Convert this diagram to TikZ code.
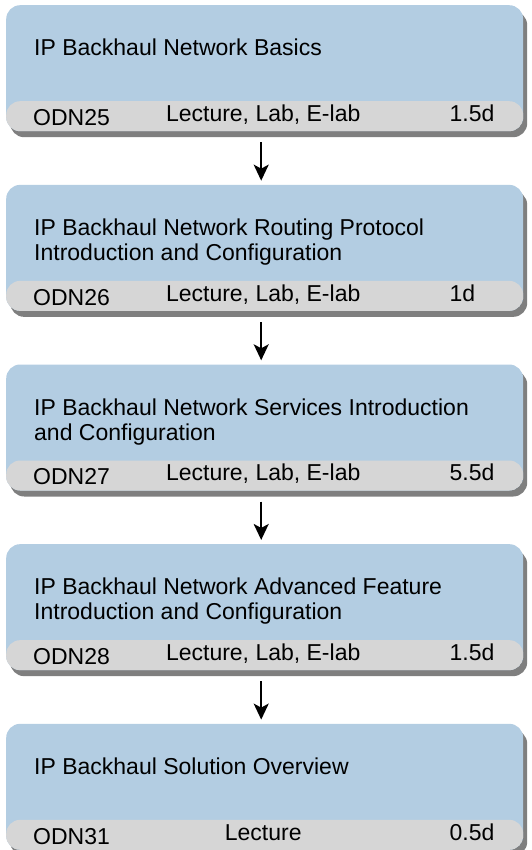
\documentclass[tikz,border=0pt]{standalone}
\usepackage{fontspec}
\setmainfont{Liberation Sans}
\definecolor{courseBlue}{HTML}{B3CDE2}
\definecolor{courseGrey}{HTML}{D6D6D6}
\definecolor{courseShadow}{HTML}{7F7F7F}
\usetikzlibrary{arrows.meta, positioning, shadows}
\tikzset{
    course card/.style={rectangle, rounded corners=14pt, fill=courseBlue, minimum width=517pt, minimum height=126pt, inner sep=0pt,
        drop shadow={shadow xshift=4pt, shadow yshift=-6pt, fill=courseShadow, opacity=1},
        path picture={\fill[courseGrey] ([yshift=30pt]path picture bounding box.south west) rectangle (path picture bounding box.south east);}},
    course title/.style={anchor=north west, align=left, inner sep=0pt, font=\fontsize{23}{25}\selectfont},
    course info/.style={inner sep=0pt, font=\fontsize{23}{25}\selectfont},
    arrow style/.style={-{Stealth[length=16pt, width=15pt, inset=4pt]}, line width=2pt, black},
}

\begin{document}
\begin{tikzpicture}[x=1pt, y=1pt, node distance=53.25pt]
    \useasboundingbox (0,0) rectangle (531,-850);
    \node[course card, anchor=north west] (course1) at (6,-5) {};
    \node[course card, below=of course1] (course2) {};
    \node[course card, below=of course2] (course3) {};
    \node[course card, below=of course3] (course4) {};
    \node[course card, below=of course4] (course5) {};
    \foreach \n/\code/\kind/\days/\title in {
        1/ODN25/{Lecture, Lab, E-lab}/1.5d/{IP Backhaul Network Basics},
        2/ODN26/{Lecture, Lab, E-lab}/1d/{IP Backhaul Network Routing Protocol\\Introduction and Configuration},
        3/ODN27/{Lecture, Lab, E-lab}/5.5d/{IP Backhaul Network Services Introduction\\and Configuration},
        4/ODN28/{Lecture, Lab, E-lab}/1.5d/{IP Backhaul Network Advanced Feature\\Introduction and Configuration},
        5/ODN31/Lecture/0.5d/{IP Backhaul Solution Overview}} {
        \node[course title] (title\n) at ([xshift=28pt, yshift=-34pt]course\n.north west) {\title};
        \node[course info, anchor=base west] (code\n) at ([xshift=27pt, yshift=6pt]course\n.south west) {\code};
        \node[course info, anchor=base] (kind\n) at ([xshift=-1.5pt, yshift=10pt]course\n.south) {\kind};
        \node[course info, anchor=base west] (days\n) at ([xshift=-74pt, yshift=10pt]course\n.south east) {\days};
    }
    \foreach \a/\b in {1/2, 2/3, 3/4, 4/5}
        \draw[arrow style, shorten <=11pt, shorten >=4pt] ([xshift=-3.5pt]course\a.south) -- ([xshift=-3.5pt]course\b.north);
\end{tikzpicture}
\end{document}
